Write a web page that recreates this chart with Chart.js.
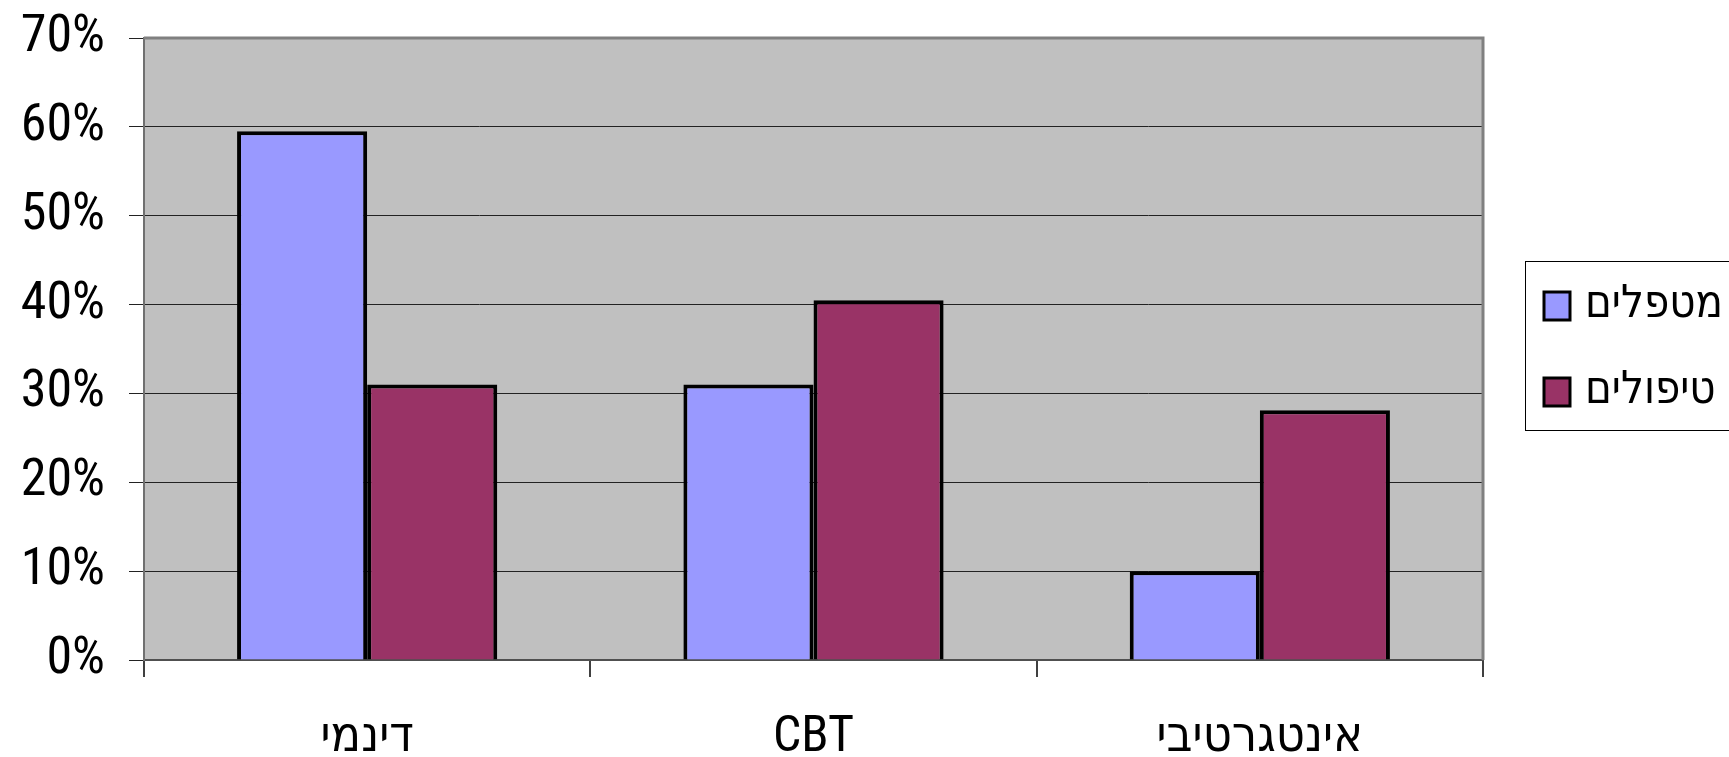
<!DOCTYPE html>
<html>
<head>
<meta charset="utf-8">
<script src="https://cdn.jsdelivr.net/npm/chart.js@4.4.1/dist/chart.umd.min.js"></script>
<style>
  html, body { margin: 0; padding: 0; background: #fff; }
  #wrap { width: 1729px; height: 757px; position: relative; }
</style>
</head>
<body>
<div id="wrap"><canvas id="c" width="1729" height="757"></canvas></div>
<script>
const categories = ['דינמי', 'CBT', 'אינטגרטיבי'];
const seriesNames = ['מטפלים', 'טיפולים'];
const therapists = [59.5, 31.0, 10.0];
const treatments = [31.0, 40.5, 28.1];
const yTicks = [0, 10, 20, 30, 40, 50, 60, 70];
const colors = ['#9999FF', '#993366'];

const FONT = '"Roboto Condensed", "DejaVu Sans Condensed", "Liberation Sans", Arial, sans-serif';

const plotDecor = {
  id: 'plotDecor',
  beforeDraw(chart) {
    const a = chart.chartArea, ctx = chart.ctx;
    ctx.save();
    ctx.fillStyle = '#fff';
    ctx.fillRect(0, 0, chart.width, chart.height);
    ctx.fillStyle = '#C0C0C0';
    ctx.fillRect(a.left, a.top, a.right - a.left, a.bottom - a.top);
    ctx.restore();
  },
  afterDraw(chart) {
    const a = chart.chartArea, ctx = chart.ctx;
    ctx.save();
    ctx.strokeStyle = '#808080';
    ctx.lineWidth = 3;
    ctx.beginPath();
    ctx.moveTo(a.left, a.top);
    ctx.lineTo(a.right, a.top);
    ctx.lineTo(a.right, a.bottom);
    ctx.stroke();
    // legend
    const lx = a.right + 42, ly = a.top + 223, lw = 260, lh = 169;
    ctx.strokeStyle = '#000';
    ctx.lineWidth = 1;
    ctx.strokeRect(lx + 0.5, ly + 0.5, lw, lh);
    chart.data.datasets.forEach((ds, i) => {
      const cy = ly + 45 + i * 86;
      ctx.fillStyle = ds.backgroundColor;
      ctx.fillRect(lx + 19, cy - 14, 26, 28);
      ctx.strokeStyle = '#000';
      ctx.lineWidth = 3;
      ctx.strokeRect(lx + 19, cy - 14, 26, 28);
      ctx.fillStyle = '#000';
      ctx.font = '45px ' + FONT;
      ctx.textAlign = 'left';
      ctx.textBaseline = 'middle';
      ctx.fillText(ds.label, lx + 60, cy);
    });
    ctx.restore();
  }
};

new Chart(document.getElementById('c'), {
  type: 'bar',
  data: {
    labels: categories,
    datasets: [
      { label: seriesNames[0], data: therapists, backgroundColor: colors[0], borderColor: '#000', borderWidth: 4, categoryPercentage: 0.583, barPercentage: 1.0 },
      { label: seriesNames[1], data: treatments, backgroundColor: colors[1], borderColor: '#000', borderWidth: 4, categoryPercentage: 0.583, barPercentage: 1.0 }
    ]
  },
  options: {
    responsive: false,
    animation: false,
    layout: { padding: { left: 0, right: 246, top: 38, bottom: 0 } },
    plugins: { legend: { display: false }, tooltip: { enabled: false } },
    scales: {
      x: {
        grid: { offset: true, drawOnChartArea: false, drawTicks: true, tickLength: 17, color: '#404040', lineWidth: 2 },
        border: { display: true, color: '#505050', width: 2 },
        ticks: { color: '#000', font: { family: FONT, size: 50 }, padding: 31 },
        afterFit(s) { s.height = 97; }
      },
      y: {
        min: 0, max: 70,
        afterBuildTicks(s) { s.ticks = yTicks.map(v => ({ value: v })); },
        grid: { color: '#222', lineWidth: 1, tickLength: 15 },
        border: { display: true, color: '#707070', width: 2 },
        ticks: { color: '#000', font: { family: FONT, size: 52 }, padding: 24, callback: v => v + '%' },
        afterFit(s) { s.width = 144; s.paddingTop = 0; s.paddingBottom = 0; }
      }
    }
  },
  plugins: [plotDecor]
});
</script>
</body>
</html>
